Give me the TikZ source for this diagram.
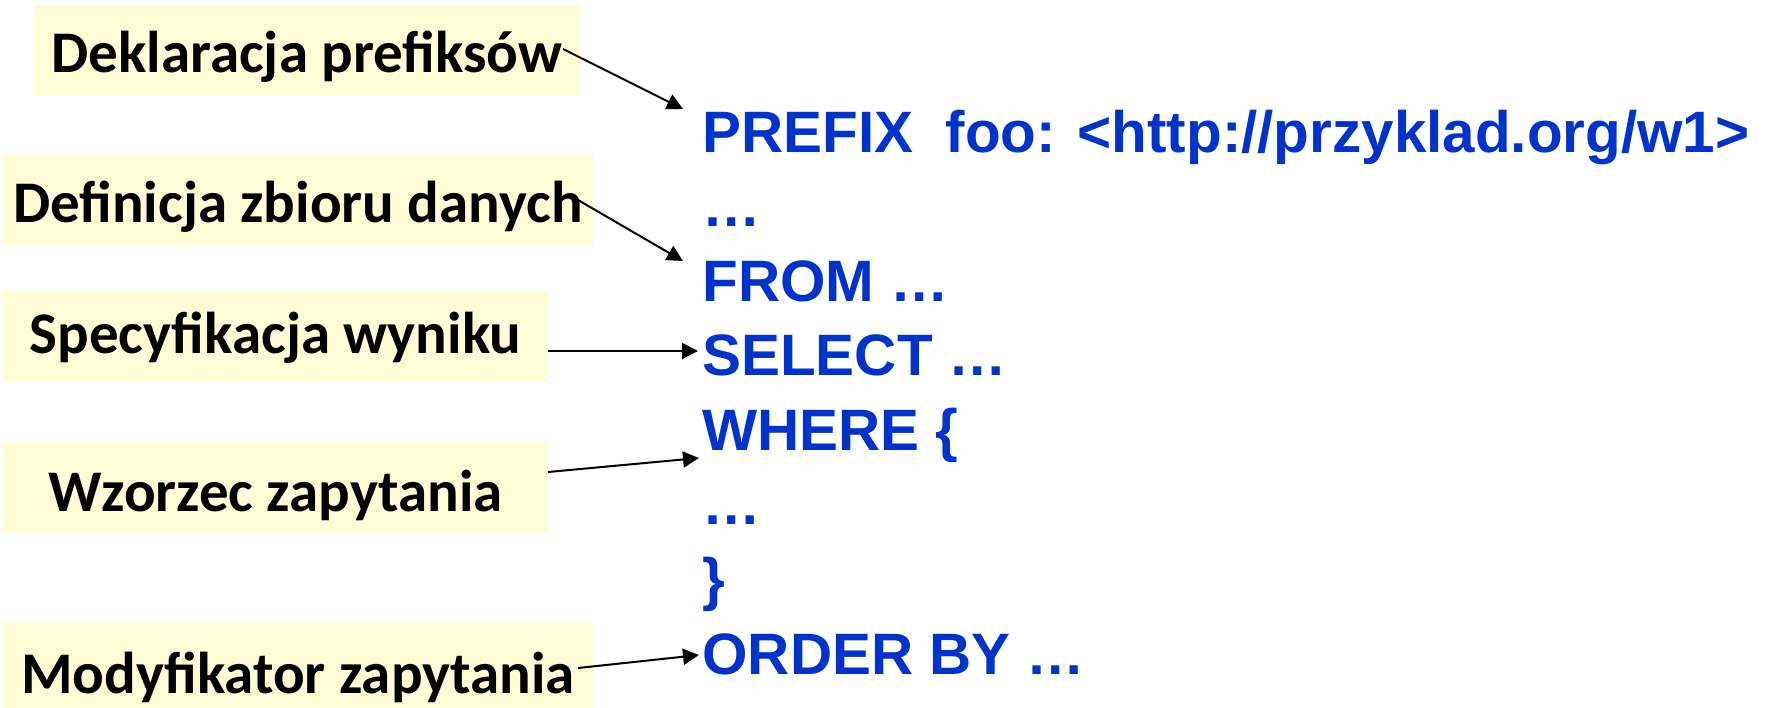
\documentclass[tikz,border=0pt]{standalone}
\usepackage{fontspec}
\setmainfont{Carlito}
\newfontfamily\codefont{Liberation Sans}
\usetikzlibrary{arrows.meta}
\definecolor{codeblue}{RGB}{0,51,204}
\definecolor{boxyellow}{RGB}{255,253,213}
\begin{document}
\begin{tikzpicture}[x=0.5pt,y=-0.5pt,
  lbl/.style={fill=boxyellow, inner sep=0pt, font=\fontsize{29.5pt}{34pt}\selectfont\bfseries, text=black, anchor=center, text depth=0pt},
  codeline/.style={anchor=base west, inner sep=0pt, text=codeblue, font=\codefont\fontsize{29.2pt}{36pt}\selectfont\bfseries},
  conn/.style={line width=1pt, -{Triangle[length=8pt,width=8pt]}}]
\useasboundingbox (0,0) rectangle (1766,707);
% label boxes
\node[lbl, minimum width=273pt, minimum height=45.5pt, text height=22pt] (b1) at (307,50.5) {Deklaracja prefiksów};
\node[lbl, minimum width=295pt, minimum height=45.5pt, text height=22pt] (b2) at (298,200.5) {Definicja zbioru danych};
\node[lbl, minimum width=272.5pt, minimum height=45.5pt, text height=17pt] (b3) at (275.5,336.5) {Specyfikacja wyniku};
\node[lbl, minimum width=272.5pt, minimum height=45.5pt, text height=24pt] (b4) at (275.5,487.5) {Wzorzec zapytania};
\node[lbl, minimum width=295pt, minimum height=45.5pt, text height=24.5pt] (b5) at (298,668.5) {Modyfikator zapytania};
% code lines
\node[codeline] (l0) at (702,152) {PREFIX\ \ foo: <http://przyklad.org/w1>};
\node[codeline] (l1) at (702,226.6) {…};
\node[codeline] (l2) at (702,301.1) {FROM …};
\node[codeline] (l3) at (702,375.7) {SELECT …};
\node[codeline] (l4) at (702,450.3) {WHERE \{};
\node[codeline] (l5) at (702,524.9) {…};
\node[codeline] (l6) at (702,599.4) {\}};
\node[codeline] (l7) at (702,674) {ORDER BY …};
% connector end points
\coordinate (s1) at (563,49);  \coordinate (e1) at (683,109);
\coordinate (s2) at (578,200); \coordinate (e2) at (683,261);
\coordinate (s3) at (548,351); \coordinate (e3) at (698,351);
\coordinate (s4) at (548,472); \coordinate (e4) at (699,458);
\coordinate (s5) at (578,668); \coordinate (e5) at (699,655);
\draw[conn] (s1) -- (e1);
\draw[conn] (s2) -- (e2);
\draw[conn] (s3) -- (e3);
\draw[conn] (s4) -- (e4);
\draw[conn] (s5) -- (e5);
\end{tikzpicture}
\end{document}
